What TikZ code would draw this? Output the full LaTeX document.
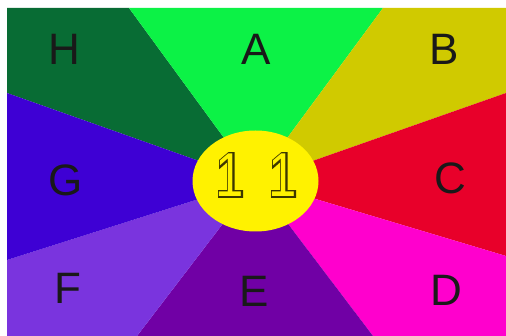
\documentclass[tikz,border=0pt]{standalone}
\usetikzlibrary{shapes.geometric}
\usepackage{fontspec}
\setmainfont{Liberation Sans}
\newfontfamily\digback[FakeBold=5,FakeStretch=0.82]{Liberation Sans}
\newfontfamily\digfront[FakeStretch=0.82]{Liberation Sans}
\definecolor{cH}{RGB}{8,108,52}
\definecolor{cA}{RGB}{12,242,70}
\definecolor{cB}{RGB}{208,202,0}
\definecolor{cC}{RGB}{232,0,42}
\definecolor{cD}{RGB}{255,0,205}
\definecolor{cE}{RGB}{112,0,165}
\definecolor{cF}{RGB}{122,52,222}
\definecolor{cG}{RGB}{62,0,212}
\definecolor{cY}{RGB}{255,242,0}
\definecolor{cOut}{RGB}{60,55,0}
\tikzset{
  lbl/.style={font=\fontsize{44}{44}\selectfont, text=black!90, inner sep=0pt},
  digb/.style={font=\digback\fontsize{62}{62}\selectfont, text=cOut, inner sep=0pt},
  digf/.style={font=\digfront\fontsize{62}{62}\selectfont, text=cY, inner sep=0pt},
}
\begin{document}
\begin{tikzpicture}[x=1pt,y=-1pt]
\useasboundingbox (0,0) rectangle (506,336);
\fill[white] (0,0) rectangle (506,336);
\coordinate (c) at (255.5,181);
\fill[cH] (7,8) -- (129,8) -- (c) -- (7,93) -- cycle;
\fill[cA] (129,8) -- (383,8) -- (c) -- cycle;
\fill[cB] (383,8) -- (506,8) -- (506,93) -- (c) -- cycle;
\fill[cC] (506,93) -- (506,256) -- (c) -- cycle;
\fill[cD] (506,256) -- (506,336) -- (373,336) -- (c) -- cycle;
\fill[cE] (373,336) -- (137,336) -- (c) -- cycle;
\fill[cF] (137,336) -- (7,336) -- (7,260) -- (c) -- cycle;
\fill[cG] (7,260) -- (7,93) -- (c) -- cycle;
\node[ellipse, fill=cY, minimum width=126pt, minimum height=101pt, inner sep=0pt] (mid) at (c) {};
\node[digb] (n1b) at (230,175) {1};
\node[digf] (n1) at (230,175) {1};
\node[digb] (n2b) at (283,175) {1};
\node[digf] (n2) at (283,175) {1};
\node[lbl] (H) at (64,49) {H};
\node[lbl] (A) at (256,49) {A};
\node[lbl] (B) at (444,49) {B};
\node[lbl] (G) at (66,180) {G};
\node[lbl] (C) at (450,178) {C};
\node[lbl] (F) at (68,288) {F};
\node[lbl] (E) at (254,291) {E};
\node[lbl] (D) at (446,290) {D};
\end{tikzpicture}
\end{document}
